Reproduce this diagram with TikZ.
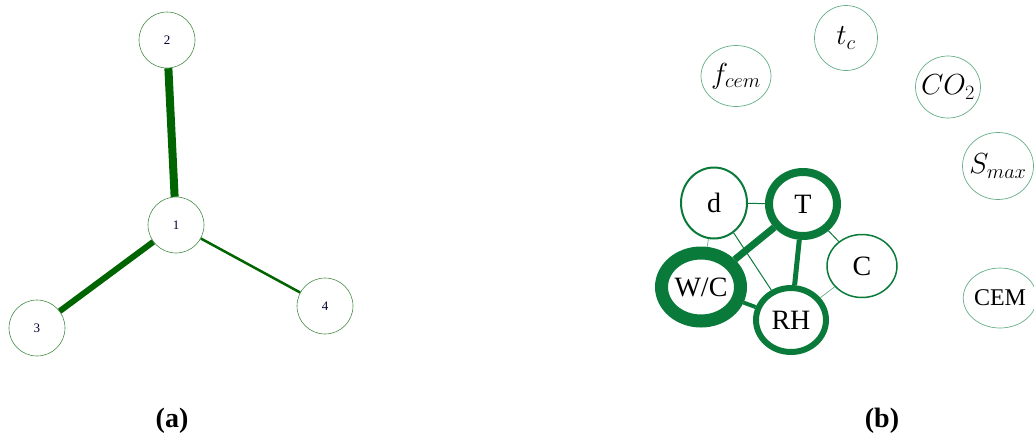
\RequirePackage{fix-cm}
\documentclass[tikz,border=0pt]{standalone}
\usepackage{fontspec}
\setmainfont{Liberation Serif}
\usetikzlibrary{shapes,shapes.geometric}
\definecolor{verdescuro}{RGB}{0,100,0}
\definecolor{verde}{RGB}{10,122,58}
\definecolor{verdechiaro}{RGB}{100,175,135}
\definecolor{bordino}{RGB}{70,140,70}

\begin{document}
\begin{tikzpicture}[x=1pt,y=-1pt]
\tikzset{base/.style={ellipse,align=center,text=black,fill=white,inner sep=0pt}, }
\tikzset{piccolo node/.style={base,draw=bordino,line width=0.6pt,minimum size=56pt,text=black!80!blue,font=\fontsize{13}{14}\selectfont}, }
\tikzset{grande node/.style={base,draw=verde,font=\fontsize{28}{30}\selectfont}, }
\tikzset{isolato node/.style={base,draw=verdechiaro,line width=0.7pt,inner sep=-4pt,font=\fontsize{29}{31}\selectfont}, }
\tikzset{linea/.style={draw=verdescuro},}
\tikzset{legame/.style={draw=verde},}
\tikzset{legamechiaro/.style={draw=verdechiaro,line width=0.7pt},}
\tikzset{didascalia/.style={font=\fontsize{28}{30}\selectfont\bfseries},}

\useasboundingbox (0,0) rectangle (1034,440);

% (a)
\node[piccolo node] (1) at (176,225) {1};
\node[piccolo node] (2) at (167,40) {2};
\node[piccolo node] (3) at (37,328) {3};
\node[piccolo node] (4) at (325,306) {4};
\draw[linea,line width=8pt] (1) -- (2);
\draw[linea,line width=6pt] (1) -- (3);
\draw[linea,line width=2.5pt] (1) -- (4);
\node[didascalia] (capa) at (172,421) {(a)};

% (b)
\node[isolato node,minimum width=63pt,minimum height=65pt] (tc) at (846,38) {$t_c$};
\node[isolato node,minimum width=70pt,minimum height=61pt] (fcem) at (736,76) {$f_{cem}$};
\node[isolato node,minimum width=65pt,minimum height=62pt] (co2) at (948,87) {$CO_2$};
\node[isolato node,minimum width=71pt,minimum height=67pt] (smax) at (998,166) {$S_{max}$};
\node[isolato node,minimum width=59pt,minimum height=60pt,inner sep=0pt,font=\fontsize{24}{26}\selectfont] (cem) at (1000,298) {CEM};

\node[grande node,line width=2pt,minimum width=66pt,minimum height=71pt] (d) at (714,203) {d};
\node[grande node,line width=8pt,minimum width=68pt,minimum height=64pt] (T) at (803,204) {T};
\node[grande node,line width=1.5pt,minimum width=70pt,minimum height=63pt] (C) at (862,266) {C};
\node[grande node,line width=13pt,minimum width=79pt,minimum height=68pt] (wc) at (701,287) {W/C};
\node[grande node,line width=6pt,minimum width=70pt,minimum height=64pt] (rh) at (791,320) {RH};

\draw[legame,line width=1pt] (d) -- (T);
\draw[legamechiaro] (d) -- (wc);
\draw[legame,line width=1pt] (d) -- (rh);
\draw[legame,line width=7pt] (T) -- (wc);
\draw[legame,line width=5pt] (T) -- (rh);
\draw[legame,line width=1pt] (T) -- (C);
\draw[legame,line width=4pt] (wc) -- (rh);
\draw[legamechiaro] (C) -- (rh);
\node[didascalia] (capb) at (882,421) {(b)};
\end{tikzpicture}
\end{document}
